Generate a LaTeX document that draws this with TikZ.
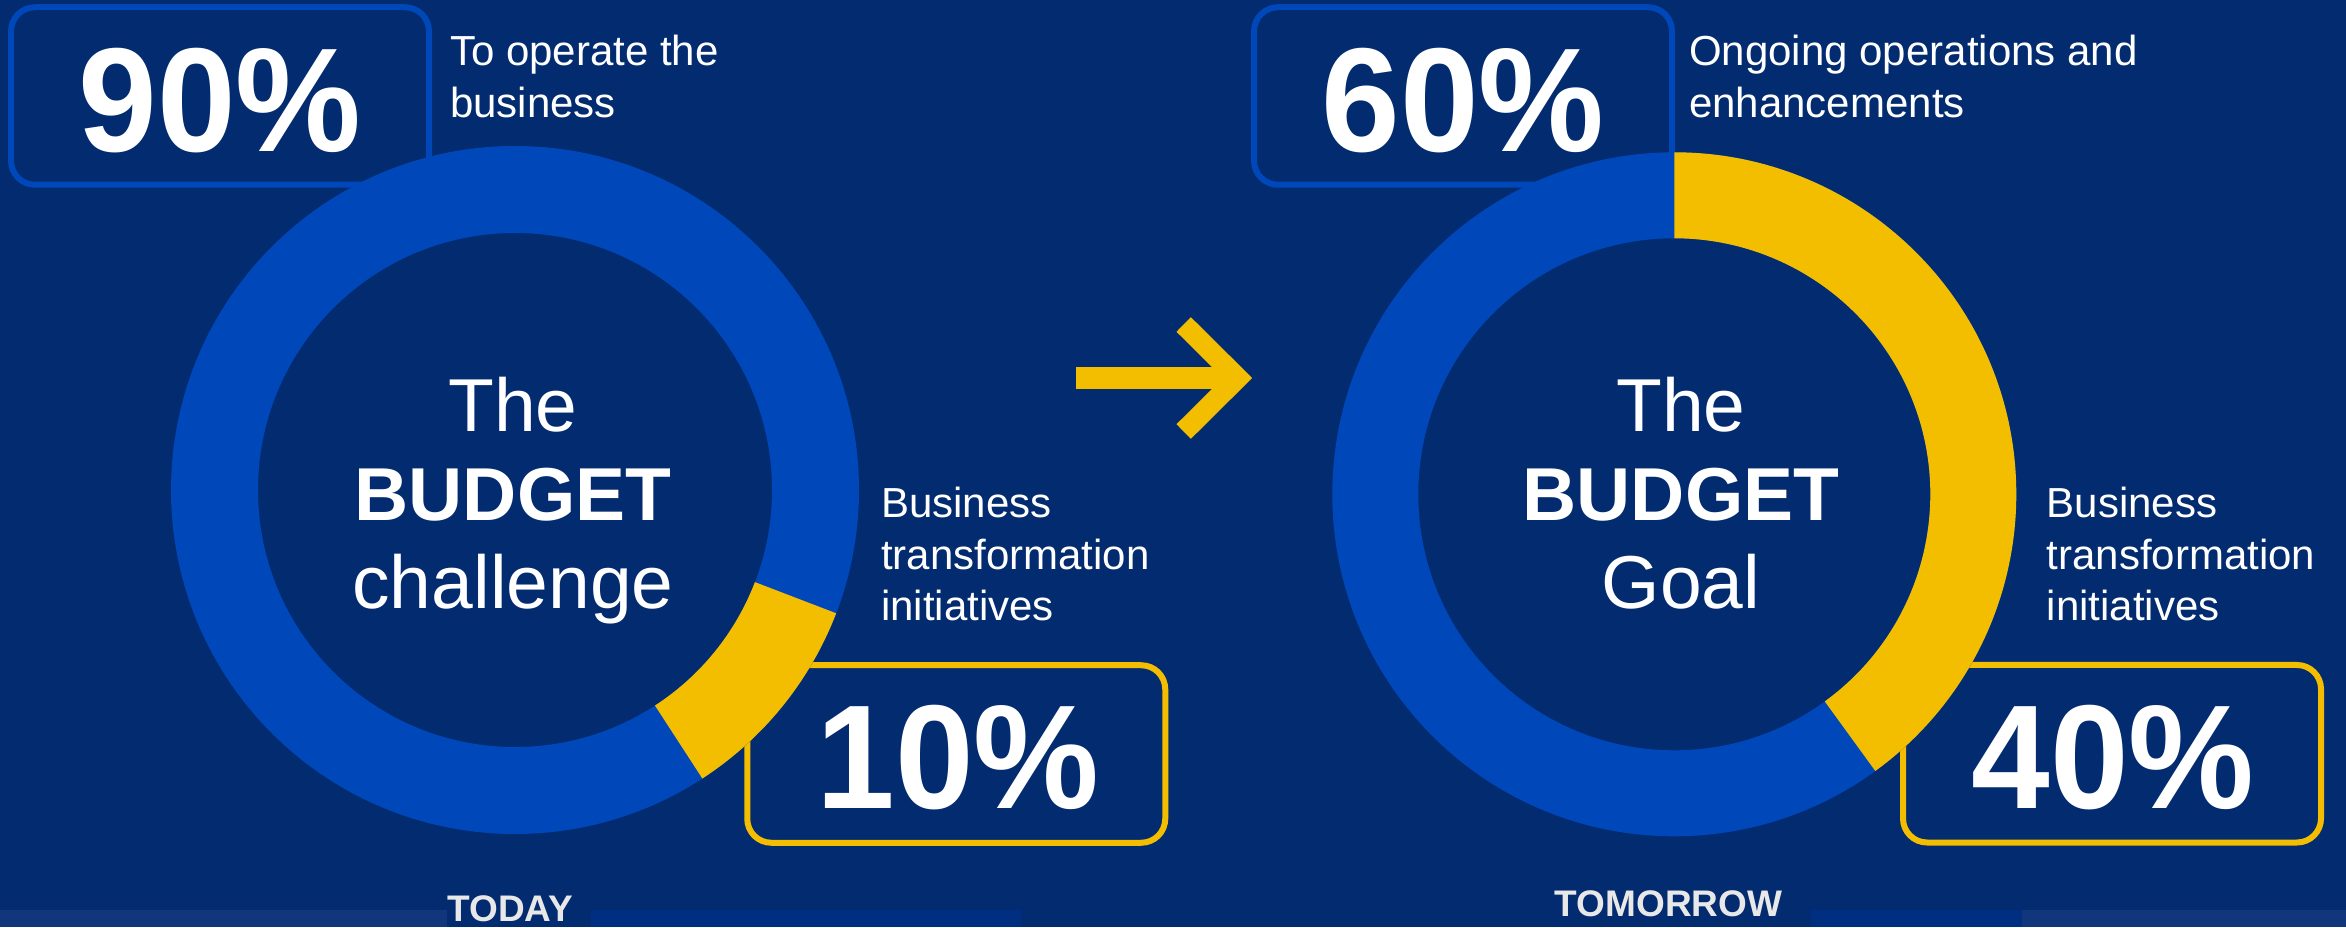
\documentclass[tikz,border=0pt]{standalone}
\usepackage{fontspec}
\setmainfont{Liberation Sans}
\definecolor{bgnavy}{RGB}{3,43,112}
\definecolor{ringblue}{RGB}{0,72,186}
\definecolor{gold}{RGB}{244,190,0}
\definecolor{capgray}{RGB}{232,232,232}
\definecolor{bandlight}{RGB}{17,54,123}
\definecolor{bandmid}{RGB}{0,47,130}
\newcommand{\narrowpct}[1]{\scalebox{0.955}[1]{#1}}
\begin{document}
\begin{tikzpicture}[x=1pt,y=1pt,
  pbox/.style={draw, line width=6pt, rounded corners=24pt, fill=bgnavy, minimum width=418pt, minimum height=177.5pt, inner sep=0pt},
  pct/.style={font=\fontsize{148}{148}\selectfont\bfseries, text=white, anchor=base, inner sep=0pt},
  lbl/.style={font=\fontsize{42}{51.5}\selectfont, text=white, align=left, anchor=base west, inner sep=0pt},
  ctr/.style={font=\fontsize{75}{88.5}\selectfont, text=white, align=center, anchor=base, inner sep=0pt},
  capt/.style={font=\fontsize{37}{37}\selectfont\bfseries, text=capgray, anchor=base, inner sep=0pt},
  arrowpart/.style={draw=gold, line width=20.5pt}
]
\useasboundingbox (0,0) rectangle (2346,927);
\fill[bgnavy] (0,0) rectangle (2346,927);
% bottom band
\fill[bandlight] (0,0) rectangle (447,17);
\fill[bandmid] (591,0) rectangle (1021,17);
\fill[bandmid] (1811,0) rectangle (2022,17);
\fill[bandlight] (2022,0) rectangle (2346,17);

% boxes
\node[pbox, draw=ringblue] (b90) at (220,831) {};
\node[pbox, draw=gold] (b10) at (956.25,173) {};
\node[pbox, draw=ringblue] (b60) at (1463,831) {};
\node[pbox, draw=gold] (b40) at (2112,173.25) {};

% rings
\coordinate (cL) at (515,437);
\coordinate (cR) at (1674.3,432.7);
\fill[ringblue, even odd rule] (cL) circle (344pt) (cL) circle (257pt);
\fill[gold] ([shift={(cL)}]-21:344pt) arc[start angle=-21, end angle=-57, radius=344pt]
  -- ([shift={(cL)}]-57:257pt) arc[start angle=-57, end angle=-21, radius=257pt] -- cycle;
\fill[ringblue, even odd rule] (cR) circle (342pt) (cR) circle (256pt);
\fill[gold] ([shift={(cR)}]90:342pt) arc[start angle=90, end angle=-54, radius=342pt]
  -- ([shift={(cR)}]-54:256pt) arc[start angle=-54, end angle=90, radius=256pt] -- cycle;

% percentages
\node[pct] (t90) at (220,775) {\narrowpct{90\%}};
\node[pct] (t10) at (958,119) {\narrowpct{10\%}};
\node[pct] (t60) at (1463,775) {\narrowpct{60\%}};
\node[pct] (t40) at (2113,119) {\narrowpct{40\%}};

% labels (anchor = baseline of the last line)
\node[lbl, font=\fontsize{42}{52.5}\selectfont] (lop) at (450,809) {To operate the\\business};
\node[lbl] (lbtL) at (881,306) {Business\\transformation\\initiatives};
\node[lbl, font=\fontsize{42}{52.5}\selectfont] (lon) at (1689,809) {Ongoing operations and\\enhancements};
\node[lbl] (lbtR) at (2046.5,306) {Business\\transformation\\initiatives};

% centre texts
\node[ctr] (mL) at (513,318) {The\\{\bfseries BUDGET}\\challenge};
\node[ctr] (mR) at (1681,318) {The\\{\bfseries BUDGET}\\Goal};

% captions
\node[capt] (today) at (510,6) {TODAY};
\node[capt] (tomorrow) at (1668.6,10.5) {TOMORROW};

% arrow
\coordinate (aS) at (1076,549);
\coordinate (aE) at (1226,549);
\coordinate (aT) at (1237.6,549);
\coordinate (aU) at (1183.7,602.5);
\coordinate (aD) at (1183.7,495.5);
\draw[arrowpart, line width=21.4pt] (aS) -- (aE);
\draw[arrowpart, miter limit=10] (aU) -- (aT) -- (aD);
\end{tikzpicture}
\end{document}
